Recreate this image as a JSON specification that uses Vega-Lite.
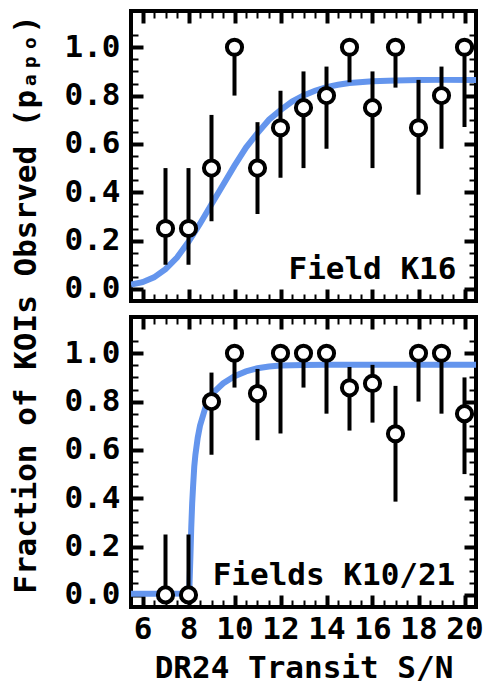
{
  "$schema": "https://vega.github.io/schema/vega-lite/v6.json",
  "padding": {"left": 8, "top": 7, "right": 0, "bottom": 0},
  "background": "white",
  "config": {
    "font": "DejaVu Sans Mono",
    "view": {"stroke": "black", "strokeWidth": 4},
    "axis": {
      "domain": false,
      "grid": false,
      "labelFont": "DejaVu Sans Mono",
      "labelFontWeight": "bold",
      "labelFontSize": 31,
      "labelColor": "black",
      "titleFont": "DejaVu Sans Mono",
      "titleFontWeight": "bold",
      "titleFontSize": 31,
      "titleColor": "black",
      "tickColor": "black",
      "ticks": true
    }
  },
  "datasets": {
    "k16": [
      {"x": 7, "y": 0.25, "lo": 0.10, "hi": 0.50},
      {"x": 8, "y": 0.25, "lo": 0.10, "hi": 0.50},
      {"x": 9, "y": 0.5, "lo": 0.28, "hi": 0.72},
      {"x": 10, "y": 1.0, "lo": 0.80, "hi": 1.0},
      {"x": 11, "y": 0.5, "lo": 0.31, "hi": 0.69},
      {"x": 12, "y": 0.667, "lo": 0.46, "hi": 0.82},
      {"x": 13, "y": 0.75, "lo": 0.50, "hi": 0.90},
      {"x": 14, "y": 0.8, "lo": 0.58, "hi": 0.92},
      {"x": 15, "y": 1.0, "lo": 0.855, "hi": 1.0},
      {"x": 16, "y": 0.75, "lo": 0.50, "hi": 0.90},
      {"x": 17, "y": 1.0, "lo": 0.833, "hi": 1.0},
      {"x": 18, "y": 0.667, "lo": 0.39, "hi": 0.865},
      {"x": 19, "y": 0.8, "lo": 0.58, "hi": 0.92},
      {"x": 20, "y": 1.0, "lo": 0.67, "hi": 1.0}
    ],
    "k1021": [
      {"x": 7, "y": 0.0, "lo": 0.0, "hi": 0.25},
      {"x": 8, "y": 0.0, "lo": 0.0, "hi": 0.25},
      {"x": 9, "y": 0.8, "lo": 0.58, "hi": 0.92},
      {"x": 10, "y": 1.0, "lo": 0.858, "hi": 1.0},
      {"x": 11, "y": 0.833, "lo": 0.64, "hi": 0.935},
      {"x": 12, "y": 1.0, "lo": 0.668, "hi": 1.0},
      {"x": 13, "y": 1.0, "lo": 0.858, "hi": 1.0},
      {"x": 14, "y": 1.0, "lo": 0.75, "hi": 1.0},
      {"x": 15, "y": 0.857, "lo": 0.68, "hi": 0.943},
      {"x": 16, "y": 0.875, "lo": 0.713, "hi": 0.952},
      {"x": 17, "y": 0.667, "lo": 0.386, "hi": 0.865},
      {"x": 18, "y": 1.0, "lo": 0.8, "hi": 1.0},
      {"x": 19, "y": 1.0, "lo": 0.75, "hi": 1.0},
      {"x": 20, "y": 0.75, "lo": 0.5, "hi": 0.9}
    ],
    "fit16": [
      {"x": 5.5, "y": 0.018}, {"x": 6, "y": 0.028}, {"x": 6.5, "y": 0.048},
      {"x": 7, "y": 0.082}, {"x": 7.5, "y": 0.13}, {"x": 8, "y": 0.195},
      {"x": 8.5, "y": 0.27}, {"x": 9, "y": 0.35}, {"x": 9.5, "y": 0.43},
      {"x": 10, "y": 0.51}, {"x": 10.5, "y": 0.585}, {"x": 11, "y": 0.645},
      {"x": 11.5, "y": 0.70}, {"x": 12, "y": 0.74}, {"x": 12.5, "y": 0.775},
      {"x": 13, "y": 0.80}, {"x": 13.5, "y": 0.82}, {"x": 14, "y": 0.835},
      {"x": 14.5, "y": 0.845}, {"x": 15, "y": 0.852}, {"x": 16, "y": 0.859},
      {"x": 17, "y": 0.862}, {"x": 18, "y": 0.864}, {"x": 19, "y": 0.865},
      {"x": 20.5, "y": 0.865}
    ],
    "fit1021": [
      {"x": 5.5, "y": 0.005}, {"x": 7, "y": 0.005}, {"x": 8.0, "y": 0.006},
      {"x": 8.04, "y": 0.03}, {"x": 8.08, "y": 0.15}, {"x": 8.12, "y": 0.28},
      {"x": 8.16, "y": 0.38}, {"x": 8.2, "y": 0.45}, {"x": 8.25, "y": 0.53},
      {"x": 8.3, "y": 0.58}, {"x": 8.4, "y": 0.65}, {"x": 8.5, "y": 0.70},
      {"x": 8.75, "y": 0.78}, {"x": 9.0, "y": 0.83}, {"x": 9.5, "y": 0.875},
      {"x": 10, "y": 0.905}, {"x": 10.5, "y": 0.925}, {"x": 11, "y": 0.938},
      {"x": 11.5, "y": 0.945}, {"x": 12, "y": 0.949}, {"x": 13, "y": 0.951},
      {"x": 14, "y": 0.952}, {"x": 20.5, "y": 0.952}
    ],
    "lab16": [{"x": 19.65, "y": 0.04, "t": "Field K16"}],
    "lab1021": [{"x": 19.6, "y": 0.04, "t": "Fields K10/21"}]
  },
  "spacing": 16,
  "bounds": "flush",
  "vconcat": [
    {
      "width": 345,
      "height": 290,
      "layer": [
        {
          "data": {"name": "fit16"},
          "mark": {"type": "line", "color": "#6495ED", "strokeWidth": 6, "clip": true},
          "encoding": {
            "x": {"field": "x", "type": "quantitative", "scale": {"domain": [5.5, 20.5], "nice": false, "zero": false},
              "axis": {"orient": "bottom", "values": [6,8,10,12,14,16,18,20], "labels": false, "title": null,
                "offset": -12, "tickSize": 12, "tickWidth": 4}},
            "y": {"field": "y", "type": "quantitative", "scale": {"domain": [-0.05, 1.15], "nice": false, "zero": false},
              "axis": {"orient": "left", "values": [0,0.2,0.4,0.6,0.8,1.0], "format": ".1f",
                "offset": -12, "tickSize": 12, "tickWidth": 4, "labelPadding": 11,
                "title": "Fraction of KOIs Obsrved (pₐₚₒ)", "titleY": 293, "titlePadding": 22}}
          }
        },
        {
          "data": {"name": "k16"},
          "mark": {"type": "rule", "color": "black", "strokeWidth": 4},
          "encoding": {
            "x": {"field": "x", "type": "quantitative",
              "axis": {"orient": "top", "values": [6,8,10,12,14,16,18,20], "labels": false, "title": null,
                "offset": -12, "tickSize": 12, "tickWidth": 4}},
            "y": {"field": "lo", "type": "quantitative",
              "axis": {"orient": "right", "values": [0,0.2,0.4,0.6,0.8,1.0], "labels": false, "title": null,
                "offset": -12, "tickSize": 12, "tickWidth": 4}},
            "y2": {"field": "hi"}
          }
        },
        {
          "data": {"name": "k16"},
          "mark": {"type": "point", "filled": true, "fill": "white", "stroke": "black", "strokeWidth": 4, "size": 230, "opacity": 1},
          "encoding": {
            "x": {"field": "x", "type": "quantitative",
              "axis": {"orient": "bottom", "values": [6.5,7,7.5,8.5,9,9.5,10.5,11,11.5,12.5,13,13.5,14.5,15,15.5,16.5,17,17.5,18.5,19,19.5], "labels": false, "title": null,
                "offset": -7, "tickSize": 7, "tickWidth": 2}},
            "y": {"field": "y", "type": "quantitative",
              "axis": {"orient": "left", "values": [0.05,0.1,0.15,0.25,0.3,0.35,0.45,0.5,0.55,0.65,0.7,0.75,0.85,0.9,0.95,1.05], "labels": false, "title": null,
                "offset": -7, "tickSize": 7, "tickWidth": 2}}
          }
        },
        {
          "data": {"name": "lab16"},
          "mark": {"type": "text", "align": "right", "baseline": "alphabetic", "font": "DejaVu Sans Mono", "fontWeight": "bold", "fontSize": 31, "color": "black"},
          "encoding": {
            "x": {"field": "x", "type": "quantitative",
              "axis": {"orient": "top", "values": [6.5,7,7.5,8.5,9,9.5,10.5,11,11.5,12.5,13,13.5,14.5,15,15.5,16.5,17,17.5,18.5,19,19.5], "labels": false, "title": null,
                "offset": -7, "tickSize": 7, "tickWidth": 2}},
            "y": {"field": "y", "type": "quantitative",
              "axis": {"orient": "right", "values": [0.05,0.1,0.15,0.25,0.3,0.35,0.45,0.5,0.55,0.65,0.7,0.75,0.85,0.9,0.95,1.05], "labels": false, "title": null,
                "offset": -7, "tickSize": 7, "tickWidth": 2}},
            "text": {"field": "t"}
          }
        }
      ],
      "resolve": {"axis": {"x": "independent", "y": "independent"}}
    },
    {
      "width": 345,
      "height": 290,
      "layer": [
        {
          "data": {"name": "fit1021"},
          "mark": {"type": "line", "color": "#6495ED", "strokeWidth": 6, "clip": true},
          "encoding": {
            "x": {"field": "x", "type": "quantitative", "scale": {"domain": [5.5, 20.5], "nice": false, "zero": false},
              "axis": {"orient": "bottom", "values": [6,8,10,12,14,16,18,20], "format": "d",
                "offset": -12, "tickSize": 12, "tickWidth": 4, "labelPadding": 7,
                "title": "DR24 Transit S/N", "titlePadding": 9}},
            "y": {"field": "y", "type": "quantitative", "scale": {"domain": [-0.05, 1.15], "nice": false, "zero": false},
              "axis": {"orient": "left", "values": [0,0.2,0.4,0.6,0.8,1.0], "format": ".1f",
                "offset": -12, "tickSize": 12, "tickWidth": 4, "labelPadding": 11, "title": null}}
          }
        },
        {
          "data": {"name": "k1021"},
          "mark": {"type": "rule", "color": "black", "strokeWidth": 4},
          "encoding": {
            "x": {"field": "x", "type": "quantitative",
              "axis": {"orient": "top", "values": [6,8,10,12,14,16,18,20], "labels": false, "title": null,
                "offset": -12, "tickSize": 12, "tickWidth": 4}},
            "y": {"field": "lo", "type": "quantitative",
              "axis": {"orient": "right", "values": [0,0.2,0.4,0.6,0.8,1.0], "labels": false, "title": null,
                "offset": -12, "tickSize": 12, "tickWidth": 4}},
            "y2": {"field": "hi"}
          }
        },
        {
          "data": {"name": "k1021"},
          "mark": {"type": "point", "filled": true, "fill": "white", "stroke": "black", "strokeWidth": 4, "size": 230, "opacity": 1},
          "encoding": {
            "x": {"field": "x", "type": "quantitative",
              "axis": {"orient": "bottom", "values": [6.5,7,7.5,8.5,9,9.5,10.5,11,11.5,12.5,13,13.5,14.5,15,15.5,16.5,17,17.5,18.5,19,19.5], "labels": false, "title": null,
                "offset": -7, "tickSize": 7, "tickWidth": 2}},
            "y": {"field": "y", "type": "quantitative",
              "axis": {"orient": "left", "values": [0.05,0.1,0.15,0.25,0.3,0.35,0.45,0.5,0.55,0.65,0.7,0.75,0.85,0.9,0.95,1.05], "labels": false, "title": null,
                "offset": -7, "tickSize": 7, "tickWidth": 2}}
          }
        },
        {
          "data": {"name": "lab1021"},
          "mark": {"type": "text", "align": "right", "baseline": "alphabetic", "font": "DejaVu Sans Mono", "fontWeight": "bold", "fontSize": 31, "color": "black"},
          "encoding": {
            "x": {"field": "x", "type": "quantitative",
              "axis": {"orient": "top", "values": [6.5,7,7.5,8.5,9,9.5,10.5,11,11.5,12.5,13,13.5,14.5,15,15.5,16.5,17,17.5,18.5,19,19.5], "labels": false, "title": null,
                "offset": -7, "tickSize": 7, "tickWidth": 2}},
            "y": {"field": "y", "type": "quantitative",
              "axis": {"orient": "right", "values": [0.05,0.1,0.15,0.25,0.3,0.35,0.45,0.5,0.55,0.65,0.7,0.75,0.85,0.9,0.95,1.05], "labels": false, "title": null,
                "offset": -7, "tickSize": 7, "tickWidth": 2}},
            "text": {"field": "t"}
          }
        }
      ],
      "resolve": {"axis": {"x": "independent", "y": "independent"}}
    }
  ]
}
